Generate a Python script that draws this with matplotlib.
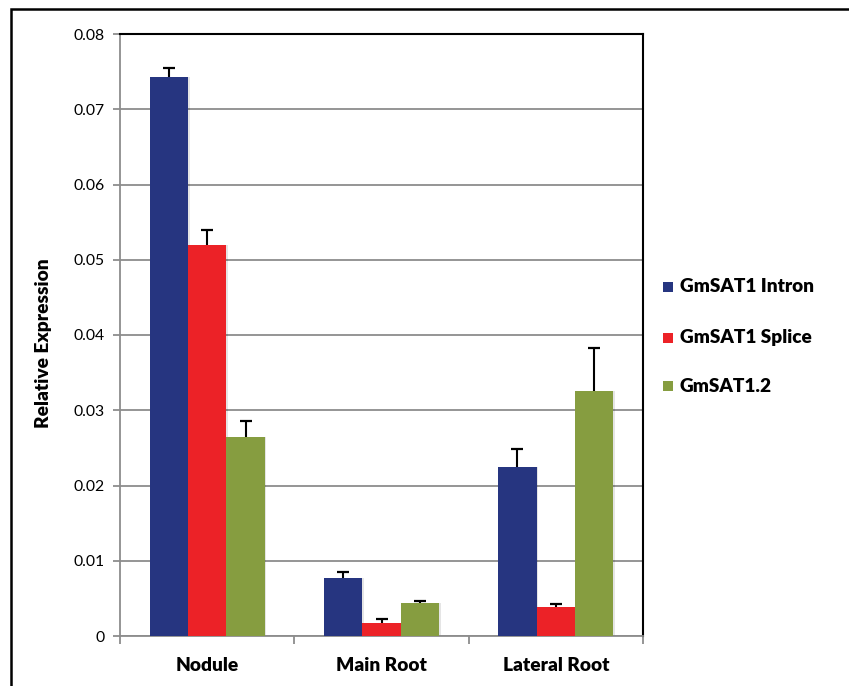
import matplotlib
matplotlib.use("Agg")
import matplotlib.pyplot as plt
import numpy as np
from matplotlib.patches import Rectangle

categories = ["Nodule", "Main Root", "Lateral Root"]
series_names = ["GmSAT1 Intron", "GmSAT1 Splice", "GmSAT1.2"]
intron = [0.0743, 0.0077, 0.0225]
splice = [0.0520, 0.0017, 0.0039]
sat12 = [0.0265, 0.0044, 0.0325]
intron_err = [0.0012, 0.0008, 0.0023]
splice_err = [0.0019, 0.0006, 0.0003]
sat12_err = [0.0021, 0.0003, 0.0058]
y_ticks = [0, 0.01, 0.02, 0.03, 0.04, 0.05, 0.06, 0.07, 0.08]
y_tick_labels = ["0", "0.01", "0.02", "0.03", "0.04", "0.05", "0.06", "0.07", "0.08"]

colors = ["#263580", "#EC2227", "#869D40"]
font = ["Lato", "DejaVu Sans"]
bold = "heavy"
W, H = 849, 686

fig = plt.figure(figsize=(W / 100, H / 100), dpi=100)
renderer = fig.canvas.get_renderer()


def size_for_width(text, width_px, **kw):
    """Font size (pt) that makes `text` about width_px pixels wide."""
    t = fig.text(0, 0, text, fontsize=10, **kw)
    w = t.get_window_extent(renderer=renderer).width
    t.remove()
    return 10 * width_px / w


tick_fs = size_for_width("0.08", 31, family=font)
cat_fs = size_for_width("Lateral Root", 107, family=font, weight=bold)
ylab_fs = size_for_width("Relative Expression", 170, family=font, weight=bold)
leg_fs = size_for_width("GmSAT1 Intron", 135, family=font, weight=bold)

ax = fig.add_axes([120 / W, 1 - 636 / H, 523 / W, 602 / H])

x = np.arange(len(categories))
width = 0.22
values = [intron, splice, sat12]
errors = [intron_err, splice_err, sat12_err]
for i, (vals, errs, c) in enumerate(zip(values, errors, colors)):
    pos = x + (i - 1) * width
    vals = np.asarray(vals)
    errs = np.asarray(errs)
    # soft drop shadow behind bars
    ax.bar(pos + 0.010, vals, width, color="#000000", alpha=0.10, zorder=2)
    ax.bar(pos, vals, width, color=c, zorder=3)
    # upper-only error bars with a cap at the top
    ax.vlines(pos, vals, vals + errs, color="black", linewidth=1.5, zorder=4)
    ax.plot(pos, vals + errs, linestyle="none", marker="_", markersize=8,
            markeredgewidth=1.6, color="black", zorder=4)

ax.set_xlim(-0.5, 2.5)
ax.set_ylim(0, 0.08)
ax.set_yticks(y_ticks)
ax.set_yticklabels(y_tick_labels, fontfamily=font, fontsize=tick_fs)
ax.yaxis.grid(True, color="#8c8c8c", linewidth=1.3, zorder=0)
ax.set_axisbelow(True)

ax.set_xticks(x)
ax.set_xticklabels(categories, fontfamily=font, fontsize=cat_fs, fontweight=bold)
ax.tick_params(axis="x", length=0, pad=15)
ax.set_xticks([-0.5, 0.5, 1.5, 2.5], minor=True)
ax.tick_params(axis="x", which="minor", length=6, color="#8c8c8c", width=1.3)
ax.tick_params(axis="y", length=5, color="#8c8c8c", width=1.3, pad=6)

for side in ["left", "bottom"]:
    ax.spines[side].set_color("#8c8c8c")
    ax.spines[side].set_linewidth(1.3)
for side in ["top", "right"]:
    ax.spines[side].set_color("black")
    ax.spines[side].set_linewidth(1.5)

ax.set_ylabel("Relative Expression", fontfamily=font, fontsize=ylab_fs,
              fontweight=bold)
ax.yaxis.set_label_coords(52 / W, 0.5, transform=fig.transFigure)

# legend: colour squares with bold labels
leg_rows = [287, 338, 386]
for name, c, yc in zip(series_names, colors, leg_rows):
    fig.patches.append(Rectangle((663 / W, 1 - (yc + 5) / H), 10 / W, 10 / H,
                                 transform=fig.transFigure, facecolor=c,
                                 edgecolor="none"))
    fig.text(680 / W, 1 - yc / H, name, family=font, weight=bold,
             fontsize=leg_fs, va="center", ha="left")

# outer frame around the chart
fig.patches.append(Rectangle((11 / W, -0.05), 1.2, (1 - 9 / H) + 0.05,
                             transform=fig.transFigure, fill=False,
                             edgecolor="black", linewidth=1.8))

fig.savefig("out.png", dpi=100)
